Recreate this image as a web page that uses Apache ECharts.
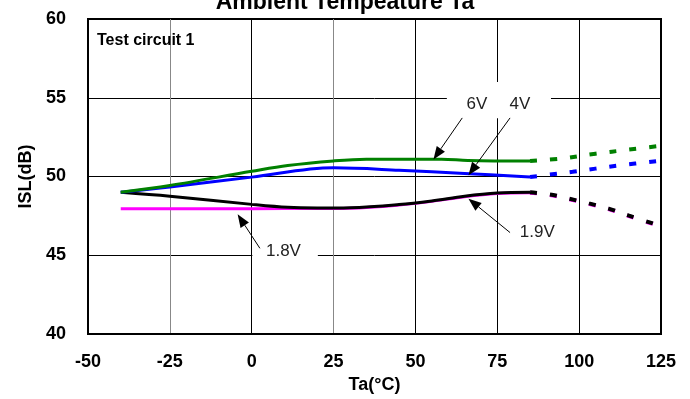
<!DOCTYPE html>
<html><head><meta charset="utf-8">
<script src="https://cdn.jsdelivr.net/npm/echarts@6/dist/echarts.min.js"></script>
<style>html,body{margin:0;padding:0;background:#fff}#c{width:690px;height:399px}</style>
</head><body><div id="c"></div>
<script>
// X ticks and data (Ta in °C, ISL in dB)
const xTicks = [-50, -25, 0, 25, 50, 75, 100, 125];
const yTicks = [40, 45, 50, 55, 60];
const v6 = [[-40,49.0],[-25,49.43],[0,50.33],[11,50.7],[25,50.99],[35,51.1],[58,51.1],[66,51.02],[85,50.98]];
const v6Dot = [[85,50.98],[95,51.15],[105,51.45],[115,51.7],[125,51.95]];
const v4 = [[-40,49.0],[-25,49.33],[0,49.96],[25,50.55],[45,50.4],[65,50.19],[85,49.97]];
const v4Dot = [[85,49.97],[91,50.12],[98,50.3],[105,50.5],[112,50.7],[125,51.0]];
const v19 = [[-40,49.0],[-25,48.75],[0,48.23],[11,48.04],[20,48.0],[30,48.02],[45,48.22],[55,48.45],[65,48.75],[75,48.95],[85,49.0]];
const v18 = [[-40,47.96],[0,47.96],[20,47.97],[30,47.99],[45,48.19],[55,48.42],[65,48.72],[75,48.92],[85,48.97]];
const v19Dot = [[85,49.0],[91,48.86],[97,48.59],[103,48.29],[109,47.96],[115,47.53],[125,46.85]];
// annotations in data coordinates
const labels = [
  {text:'6V', at:[68.8,54.6]},
  {text:'4V', at:[81.9,54.6]},
  {text:'1.9V', at:[87.2,46.48]},
  {text:'1.8V', at:[9.7,45.27]}
];
const boxes = [
  {from:[59.6,56.0], to:[91.4,53.7]},
  {from:[0.2,46.6], to:[20.2,44.75]}
];
const arrows = [
  {from:[64.3,53.72], to:[55.5,51.08]},
  {from:[78.9,53.72], to:[66.2,50.08]},
  {from:[78.9,46.44], to:[66.2,48.59]},
  {from:[2.5,45.44], to:[-4.3,47.6]}
];

const FONT = '"Liberation Sans", Arial, sans-serif';
const chart = echarts.init(document.getElementById('c'), null, {renderer:'canvas'});
function line(name, data, color, dashed, z){
  return {name, type:'line', data, smooth:0.35, symbol:'none', z: z||2,
    lineStyle:{color, width: dashed?4:3, type: dashed?[7,13]:'solid', cap:'butt'}};
}
chart.setOption({
  animation:false,
  title:{text:'Ambient Tempeature Ta', left:'center', top:-14,
    textStyle:{fontFamily:FONT, fontWeight:'bold', fontSize:23, color:'#000'}},
  grid:{left:88, right:29, top:19, bottom:64, show:true, borderColor:'#000', borderWidth:2, backgroundColor:'transparent'},
  xAxis:{type:'value', min:xTicks[0], max:xTicks[xTicks.length-1], interval:25,
    name:'Ta(°C)', nameLocation:'middle', nameGap:42,
    nameTextStyle:{fontFamily:FONT, fontWeight:'bold', fontSize:18, color:'#000'},
    axisLine:{show:true, onZero:false, lineStyle:{color:'#000', width:2}},
    axisTick:{show:false},
    axisLabel:{fontFamily:FONT, fontWeight:'bold', fontSize:18, color:'#000', margin:19},
    splitLine:{show:true, lineStyle:{color:['#000','#888','#000','#888','#000','#000','#000','#000'], width:1}}},
  yAxis:{type:'value', min:yTicks[0], max:yTicks[yTicks.length-1], interval:5,
    name:'ISL(dB)', nameLocation:'middle', nameGap:48,
    nameTextStyle:{fontFamily:FONT, fontWeight:'bold', fontSize:18, color:'#000'},
    axisLine:{show:true, onZero:false, lineStyle:{color:'#000', width:2}},
    axisTick:{show:false},
    axisLabel:{fontFamily:FONT, fontWeight:'bold', fontSize:18, color:'#000', margin:22},
    splitLine:{show:true, lineStyle:{color:'#000', width:1}}},
  series:[
    line('1.8V', v18, '#ff00ff', false, 2),
    line('1.9V', v19, '#000000', false, 3),
    line('4V', v4, '#0000ff', false, 4),
    line('6V', v6, '#008000', false, 5),
    line('1.8Vd', v19Dot.map(p=>[p[0],p[1]-0.03]), '#ff00ff', true, 2),
    line('1.9Vd', v19Dot, '#000000', true, 3),
    line('4Vd', v4Dot, '#0000ff', true, 4),
    line('6Vd', v6Dot, '#008000', true, 5)
  ]
});
const px = p => chart.convertToPixel({gridIndex:0}, p);
const g = [{type:'text', left:97, top:33, z:5, style:{text:'Test circuit 1', font:'bold 16px '+FONT, fill:'#000'}}];
boxes.forEach(b=>{
  const a = px(b.from), c = px(b.to);
  g.push({type:'rect', z:1, shape:{x:Math.min(a[0],c[0]), y:Math.min(a[1],c[1]), width:Math.abs(c[0]-a[0]), height:Math.abs(c[1]-a[1])}, style:{fill:'#fff'}});
});
labels.forEach(l=>{
  const p = px(l.at);
  g.push({type:'text', z:6, x:p[0], y:p[1], style:{text:l.text, font:'17px '+FONT, fill:'#222', align:'center', verticalAlign:'middle'}});
});
arrows.forEach(ar=>{
  const a = px(ar.from), b = px(ar.to);
  const dx=b[0]-a[0], dy=b[1]-a[1], L=Math.hypot(dx,dy), ux=dx/L, uy=dy/L;
  const hl=13, hw=5;
  const bx=b[0]-ux*hl, by=b[1]-uy*hl;
  g.push({type:'line', z:6, shape:{x1:a[0],y1:a[1],x2:bx,y2:by}, style:{stroke:'#000', lineWidth:1}});
  g.push({type:'polygon', z:6, shape:{points:[[b[0],b[1]],[bx-uy*hw,by+ux*hw],[bx+uy*hw,by-ux*hw]]}, style:{fill:'#000'}});
});
chart.setOption({graphic:g});
</script></body></html>
